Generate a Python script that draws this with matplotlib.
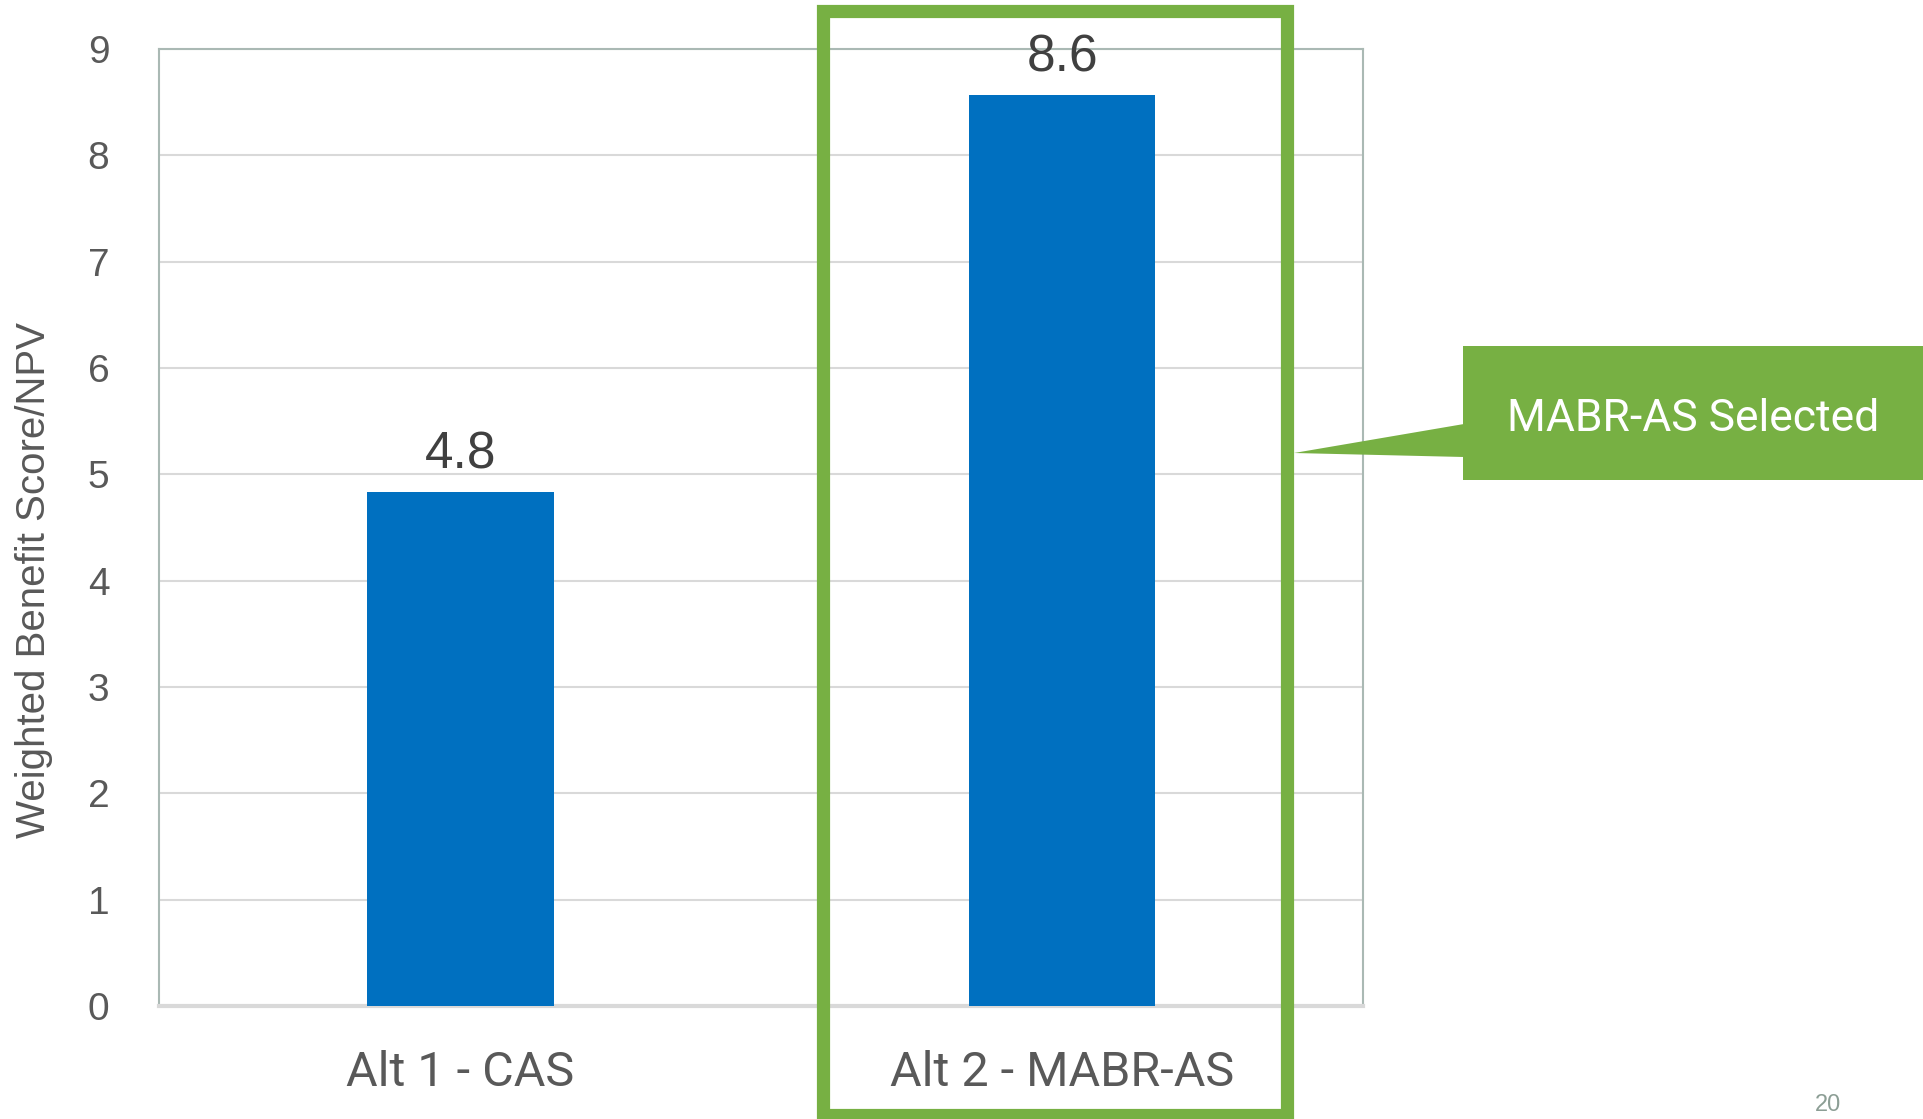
import matplotlib
matplotlib.use('Agg')
import matplotlib.pyplot as plt
from matplotlib.patches import Rectangle, Polygon

categories = ['Alt 1 - CAS', 'Alt 2 - MABR-AS']
scores = [4.83, 8.57]
score_labels = ['4.8', '8.6']
yticks = [0, 1, 2, 3, 4, 5, 6, 7, 8, 9]

W, H = 1924, 1119
blue = '#0070C0'
green = '#77B043'
txt = '#595959'

plt.rcParams['font.family'] = ['Liberation Sans', 'DejaVu Sans']

fig = plt.figure(figsize=(W / 100, H / 100), dpi=100)
ax = fig.add_axes([159.5 / W, 1 - 1006 / H, 1203.5 / W, (1006 - 49) / H])

x = range(len(categories))
ax.bar(x, scores, width=0.31, color=blue, zorder=3)
ax.set_xlim(-0.5, 1.5)
ax.set_ylim(0, 9)
ax.set_yticks(yticks)
ax.set_xticks(list(x))
ax.set_xticklabels(categories, fontsize=35, color=txt, family='Roboto')
ax.tick_params(axis='y', length=0, pad=36, labelsize=28, labelcolor=txt)
ax.tick_params(axis='x', length=0, pad=32)
ax.grid(axis='y', color='#D9D9D9', linewidth=1.5, zorder=0)

for s in ['top', 'left', 'right']:
    ax.spines[s].set_color('#AAB9B4')
    ax.spines[s].set_linewidth(1.5)
ax.spines['bottom'].set_color('#D9D9D9')
ax.spines['bottom'].set_linewidth(3)

for xi, v, lab in zip(x, scores, score_labels):
    ax.annotate(lab, (xi, v), xytext=(0, 17), textcoords='offset points',
                ha='center', va='baseline', fontsize=37, color='#404040')

fig.text(34 / W, 1 - 580 / H, 'Weighted Benefit Score/NPV', rotation=90,
         ha='center', va='center', fontsize=29, color=txt)


def fx(px):
    return px / W


def fy(py):
    return 1 - py / H


# green highlight frame around Alt 2
fig.patches.append(Rectangle((fx(823), fy(1115)), fx(1287) - fx(823), fy(10.5) - fy(1115),
                             transform=fig.transFigure, fill=False,
                             edgecolor=green, linewidth=9.5, zorder=5))

# callout
fig.patches.append(Rectangle((fx(1463), fy(480)), fx(1924) - fx(1463), fy(346) - fy(480),
                             transform=fig.transFigure, facecolor=green,
                             edgecolor='none', zorder=5))
fig.patches.append(Polygon([(fx(1464), fy(424)), (fx(1294), fy(453)), (fx(1464), fy(457))],
                           closed=True, transform=fig.transFigure, facecolor=green,
                           edgecolor='none', zorder=5))
fig.text(fx(1693), fy(419), 'MABR-AS Selected', ha='center', va='center',
         fontsize=32, color='white', family='Roboto', zorder=6)

fig.text(fx(1828), fy(1094), '20', ha='center', va='top', fontsize=17, color='#8C9E95')

fig.savefig('out.png', dpi=100)
